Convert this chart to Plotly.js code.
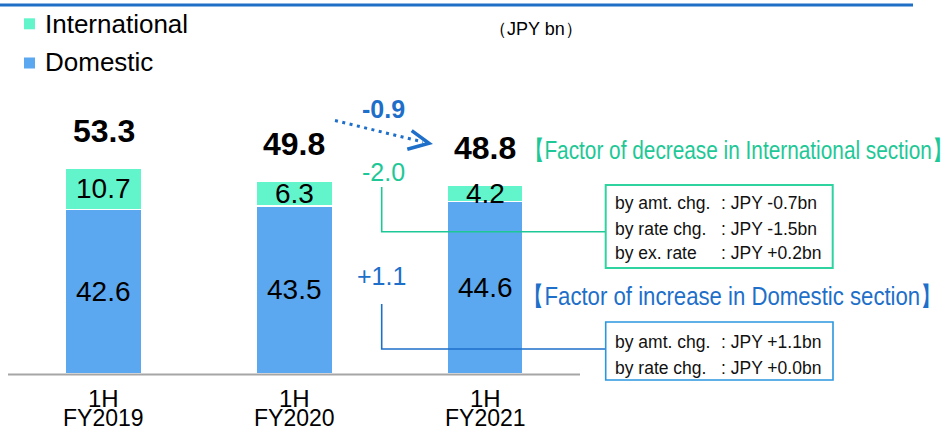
<!DOCTYPE html>
<html><head><meta charset="utf-8">
<script src="https://cdn.plot.ly/plotly-3.0.1.min.js"></script>
<style>html,body{margin:0;padding:0;background:#fff}#chart{width:941px;height:430px}</style>
</head><body><div id="chart"></div>
<script>
// ---- data ----
const periodLine1 = ["1H", "1H", "1H"];
const periodLine2 = ["FY2019", "FY2020", "FY2021"];
const domestic = [42.6, 43.5, 44.6];
const international = [10.7, 6.3, 4.2];
const totals = [53.3, 49.8, 48.8];
const seriesNames = ["International", "Domestic"];
const unitLabel = "（JPY bn）";
const totalChange = "-0.9";
const intlChange = "-2.0";
const domChange = "+1.1";
const intlFactorTitle = "【Factor of decrease in International section】";
const domFactorTitle = "【Factor of increase in Domestic section】";
const intlFactorLabels = ["by amt. chg.", "by rate chg.", "by ex. rate"];
const intlFactorValues = [": JPY -0.7bn", ": JPY -1.5bn", ": JPY +0.2bn"];
const domFactorLabels = ["by amt. chg.", "by rate chg."];
const domFactorValues = [": JPY +1.1bn", ": JPY +0.0bn"];

// ---- styles ----
const W = 941, H = 430;
const C_DOM = "#5BA8F0", C_INT = "#62F5CB";
const C_GREEN = "#1EC896", C_GREEN_BOX = "#2ED3A0";
const C_BLUE = "#1E6FC9", C_BLUE_BOX = "#2A96E0";
const FONT = "Liberation Sans, Arial, sans-serif";
const pxPerUnit = 3.866, baseY = 374, cat0 = 103.5, catStep = 190.75;
const px = x => x / W;
const py = y => (H - y) / H;
const xs = periodLine2.map((_, i) => i);

const traces = [
  {type: "bar", name: seriesNames[1], x: xs, y: domestic, width: 0.4,
   marker: {color: C_DOM, line: {color: "#ffffff", width: 1.5}}, hoverinfo: "skip"},
  {type: "bar", name: seriesNames[0], x: xs, y: international, width: 0.4,
   marker: {color: C_INT, line: {color: "#ffffff", width: 1.5}}, hoverinfo: "skip"}
];

const ann = [];
const A = (o) => ann.push(Object.assign({showarrow: false, xref: "paper", yref: "paper"}, o));
xs.forEach(i => {
  ann.push({x: i, y: domestic[i] / 2, xref: "x", yref: "y", showarrow: false,
    text: domestic[i].toFixed(1), font: {family: FONT, size: 28, color: "#000"}});
  ann.push({x: i, y: domestic[i] + international[i] / 2, xref: "x", yref: "y", showarrow: false,
    text: international[i].toFixed(1), font: {family: FONT, size: 28, color: "#000"}});
  ann.push({x: i, y: totals[i], xref: "x", yref: "y", yshift: 37, showarrow: false,
    text: "<b>" + totals[i].toFixed(1) + "</b>", font: {family: FONT, size: 32, color: "#000"}});
  ann.push({x: i, y: py(398), xref: "x", yref: "paper", showarrow: false, yanchor: "middle",
    text: periodLine1[i], font: {family: FONT, size: 24, color: "#000"}});
  ann.push({x: i, y: py(418), xref: "x", yref: "paper", showarrow: false, yanchor: "middle",
    text: periodLine2[i], font: {family: FONT, size: 23, color: "#000"}});
});
// legend
A({x: px(43), y: py(23.5), xanchor: "left", yanchor: "middle", text: seriesNames[0], font: {family: FONT, size: 26, color: "#000"}});
A({x: px(43), y: py(62), xanchor: "left", yanchor: "middle", text: seriesNames[1], font: {family: FONT, size: 26, color: "#000"}});
// unit
A({x: px(536), y: py(29), xanchor: "center", yanchor: "middle", text: unitLabel, font: {family: FONT, size: 18, color: "#000"}});
// change labels
A({x: px(383.5), y: py(108.5), yanchor: "middle", text: "<b>" + totalChange + "</b>", font: {family: FONT, size: 25, color: C_BLUE}});
A({x: px(383.3), y: py(172), yanchor: "middle", text: intlChange, font: {family: FONT, size: 25, color: C_GREEN}});
A({x: px(381.3), y: py(276), yanchor: "middle", text: domChange, font: {family: FONT, size: 25, color: C_BLUE}});
// factor titles (condensed to the reference width after drawing)
A({x: px(737.5), y: py(150), xanchor: "center", yanchor: "middle", text: intlFactorTitle, font: {family: FONT, size: 26, color: C_GREEN}});
A({x: px(732.5), y: py(296), xanchor: "center", yanchor: "middle", text: domFactorTitle, font: {family: FONT, size: 26, color: C_BLUE}});
const condensed = [[intlFactorTitle, 429], [domFactorTitle, 420]];
// factor boxes
const intlRows = [203, 229, 253], domRows = [342, 368];
intlFactorLabels.forEach((t, k) => {
  A({x: px(613), y: py(intlRows[k]), xanchor: "left", yanchor: "middle", text: t, font: {family: FONT, size: 17.5, color: "#111"}});
  A({x: px(719), y: py(intlRows[k]), xanchor: "left", yanchor: "middle", text: intlFactorValues[k], font: {family: FONT, size: 17.5, color: "#111"}});
});
domFactorLabels.forEach((t, k) => {
  A({x: px(613), y: py(domRows[k]), xanchor: "left", yanchor: "middle", text: t, font: {family: FONT, size: 17.5, color: "#111"}});
  A({x: px(719), y: py(domRows[k]), xanchor: "left", yanchor: "middle", text: domFactorValues[k], font: {family: FONT, size: 17.5, color: "#111"}});
});

const P = (pts) => pts.map((p, k) => (k ? "L" : "M") + px(p[0]).toFixed(5) + "," + py(p[1]).toFixed(5)).join(" ");
const shapes = [
  {type: "line", xref: "paper", yref: "paper", x0: 0, x1: px(913), y0: py(5), y1: py(5), line: {color: "#1F6FC6", width: 3}},
  {type: "line", xref: "paper", yref: "paper", x0: px(8), x1: px(580), y0: py(374.5), y1: py(374.5), line: {color: "#A6A6A6", width: 2}},
  {type: "line", xref: "paper", yref: "paper", x0: px(335), y0: py(120.5), x1: px(423), y1: py(142), line: {color: C_BLUE, width: 3, dash: "3px,4.5px"}},
  {type: "path", xref: "paper", yref: "paper", path: P([[411.7, 130.7], [429, 143.3], [407.3, 149.3]]), line: {color: C_BLUE, width: 3.5}},
  {type: "path", xref: "paper", yref: "paper", path: P([[381.7, 187], [381.7, 231.7], [605, 231.7]]), line: {color: C_GREEN, width: 1.6}},
  {type: "path", xref: "paper", yref: "paper", path: P([[381.7, 304], [381.7, 349], [605, 349]]), line: {color: C_BLUE, width: 1.6}},
  {type: "rect", xref: "paper", yref: "paper", x0: px(605.7), x1: px(832.7), y0: py(185), y1: py(268), line: {color: C_GREEN_BOX, width: 2}, fillcolor: "#fff"},
  {type: "rect", xref: "paper", yref: "paper", x0: px(605.7), x1: px(833), y0: py(322), y1: py(380), line: {color: C_BLUE_BOX, width: 1.6}, fillcolor: "#fff"},
  {type: "rect", xref: "paper", yref: "paper", x0: px(24), x1: px(35), y0: py(18.3), y1: py(29.3), line: {width: 0}, fillcolor: C_INT},
  {type: "rect", xref: "paper", yref: "paper", x0: px(24), x1: px(35), y0: py(57.5), y1: py(68.5), line: {width: 0}, fillcolor: C_DOM}
];

const layout = {
  width: W, height: H,
  margin: {l: 0, r: 0, t: 0, b: 0, pad: 0},
  paper_bgcolor: "#fff", plot_bgcolor: "#fff",
  barmode: "stack", bargap: 0.6,
  showlegend: false,
  xaxis: {range: [-cat0 / catStep, (W - cat0) / catStep], visible: false, fixedrange: true},
  yaxis: {range: [-(H - baseY) / pxPerUnit, baseY / pxPerUnit], visible: false, fixedrange: true},
  annotations: ann,
  shapes: shapes,
  font: {family: FONT}
};
Plotly.newPlot("chart", traces, layout, {displayModeBar: false, staticPlot: true}).then(gd => {
  gd.querySelectorAll("text.annotation-text").forEach(t => {
    condensed.forEach(([txt, len]) => {
      if (t.textContent === txt) {
        t.setAttribute("textLength", len);
        t.setAttribute("lengthAdjust", "spacingAndGlyphs");
      }
    });
  });
});
</script></body></html>
